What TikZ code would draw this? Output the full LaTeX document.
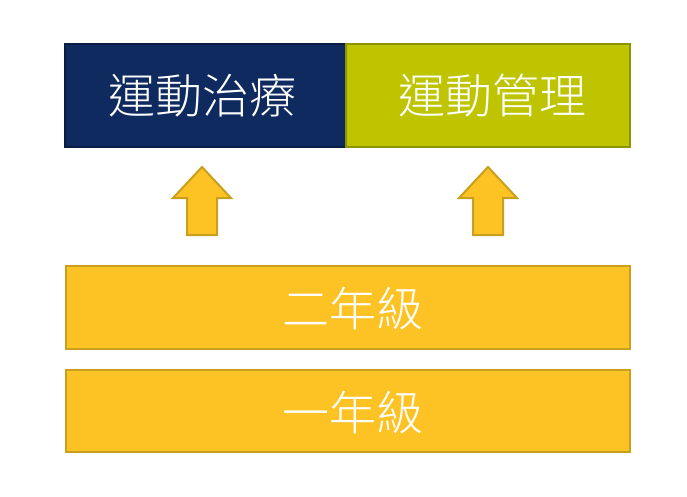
\documentclass[tikz,border=0pt]{standalone}
\usepackage{fontspec}
\newfontfamily\cjk{Noto Sans CJK TC Light}
\definecolor{navy}{HTML}{0E2A5E}
\definecolor{navyb}{HTML}{0A1E44}
\definecolor{olive}{HTML}{BEC400}
\definecolor{oliveb}{HTML}{8E9400}
\definecolor{gold}{HTML}{FDC324}
\definecolor{goldb}{HTML}{C9A01E}
\tikzset{
  boxtxt/.style={font=\cjk\fontsize{47}{50}\selectfont, text=white, inner sep=0pt},
  arr/.style={fill=gold, draw=goldb, line width=2pt, line join=miter},
}
\begin{document}
\begin{tikzpicture}[x=1pt,y=-1pt]
\useasboundingbox (0,0) rectangle (687,496);
\fill[white] (0,0) rectangle (687,496);
% top boxes
\draw[fill=navy, draw=navyb, line width=2pt] (65,44) rectangle (346,147);
\draw[fill=olive, draw=oliveb, line width=2pt] (346,44) rectangle (630,147);
\node[boxtxt] (therapy) at (202,96) {運動治療};
\node[boxtxt] (manage) at (492,96) {運動管理};
% bottom boxes
\draw[fill=gold, draw=goldb, line width=2.5pt] (66,266) rectangle (630,349);
\draw[fill=gold, draw=goldb, line width=2.5pt] (66,370) rectangle (630,452);
\node[boxtxt] (g2) at (353,309) {二年級};
\node[boxtxt] (g1) at (353,413) {一年級};
% arrows
\foreach \cx in {202,488}{
  \draw[arr] (\cx,167) -- (\cx+29,198) -- (\cx+15,198) -- (\cx+15,235) -- (\cx-15,235) -- (\cx-15,198) -- (\cx-29,198) -- cycle;
}
\end{tikzpicture}
\end{document}
